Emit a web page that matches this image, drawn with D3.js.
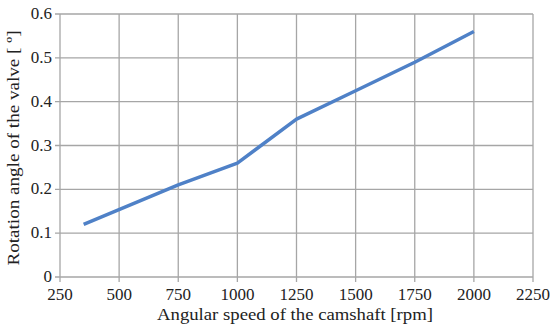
<!DOCTYPE html>
<html>
<head>
<meta charset="utf-8">
<script src="https://cdn.jsdelivr.net/npm/d3@7"></script>
<style>
  body { margin: 0; background: #fff; }
  text { font-family: "Liberation Serif", "DejaVu Serif", serif; fill: #222; }
</style>
</head>
<body>
<div id="chart"></div>
<script>
// data
var speeds = [350, 750, 1000, 1250, 1500, 1750, 2000];
var angles = [0.12, 0.21, 0.26, 0.36, 0.425, 0.49, 0.56];
var xTicks = [250, 500, 750, 1000, 1250, 1500, 1750, 2000, 2250];
var yTicks = [0, 0.1, 0.2, 0.3, 0.4, 0.5, 0.6];

var width = 550, height = 329;
var margin = {top: 14, right: 17, bottom: 52, left: 60};

var svg = d3.select("#chart").append("svg")
    .attr("width", width)
    .attr("height", height);

var x = d3.scaleLinear().domain([250, 2250]).range([margin.left, width - margin.right]);
var y = d3.scaleLinear().domain([0, 0.6]).range([height - margin.bottom, margin.top]);

//Grid lines
svg.append("g").selectAll("line.v")
    .data(xTicks)
    .enter().append("line")
    .attr("x1", function(d) { return x(d); })
    .attr("x2", function(d) { return x(d); })
    .attr("y1", y(0.6))
    .attr("y2", y(0) + 5)
    .style("stroke", "#a6a6a6")
    .style("stroke-width", 1.3);

svg.append("g").selectAll("line.h")
    .data(yTicks)
    .enter().append("line")
    .attr("x1", x(250) - 5)
    .attr("x2", x(2250))
    .attr("y1", function(d) { return y(d); })
    .attr("y2", function(d) { return y(d); })
    .style("stroke", "#a6a6a6")
    .style("stroke-width", 1.3);

//Tick labels
svg.append("g").selectAll("text")
    .data(xTicks)
    .enter().append("text")
    .attr("x", function(d) { return x(d); })
    .attr("y", y(0) + 23)
    .attr("text-anchor", "middle")
    .style("font-size", "17px")
    .text(function(d) { return d; });

svg.append("g").selectAll("text")
    .data(yTicks)
    .enter().append("text")
    .attr("x", x(250) - 8)
    .attr("y", function(d) { return y(d) + 5; })
    .attr("text-anchor", "end")
    .style("font-size", "17px")
    .text(function(d) { return d === 0 ? "0" : d3.format(".1f")(d); });

//Axis titles
svg.append("text")
    .attr("x", 295)
    .attr("y", height - 9)
    .attr("text-anchor", "middle")
    .attr("textLength", 276)
    .attr("lengthAdjust", "spacingAndGlyphs")
    .style("font-size", "17px")
    .text("Angular speed of the camshaft [rpm]");

svg.append("text")
    .attr("transform", "translate(19,148) rotate(-90)")
    .attr("text-anchor", "middle")
    .attr("textLength", 235)
    .attr("lengthAdjust", "spacingAndGlyphs")
    .style("font-size", "17px")
    .text("Rotation angle of the valve  [ º]");

//Line
var line = d3.line()
    .x(function(d, i) { return x(speeds[i]); })
    .y(function(d) { return y(d); });

svg.append("path")
    .datum(angles)
    .attr("d", line)
    .style("fill", "none")
    .style("stroke", "#4f81c7")
    .style("stroke-width", 3.5)
    .style("stroke-linejoin", "round");
</script>
</body>
</html>
